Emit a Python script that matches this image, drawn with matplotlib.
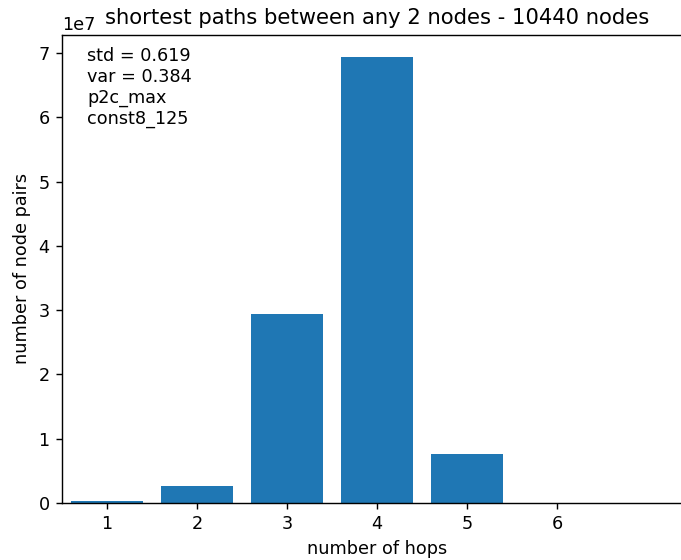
import matplotlib
matplotlib.use("Agg")
import matplotlib.pyplot as plt

hops = [1, 2, 3, 4, 5, 6]
pairs = [0.025e7, 0.26e7, 2.94e7, 6.935e7, 0.77e7, 0.0003e7]
tick_labels = ["1", "2", "3", "4", "5", "6"]
stats_text = "std = 0.619\nvar = 0.384\np2c_max\nconst8_125"
title = "shortest paths between any 2 nodes - 10440 nodes"

DPI = 127
fig = plt.figure(figsize=(681/DPI, 560/DPI), dpi=DPI)
ax = fig.add_axes([62/681, (560-503)/560, (692-62)/681, (503-35)/560])
ax.bar(hops, pairs, width=0.8, color="#1f77b4")
ax.set_xlim(0.5, 7.5)
ax.set_xticks(hops)
ax.set_xticklabels(tick_labels)
ax.set_xlabel("number of hops")
ax.set_ylabel("number of node pairs")
ax.set_title(title, fontsize=12)
ax.text(0.04, 0.975, stats_text, transform=ax.transAxes, va="top", ha="left", fontsize=10)
fig.savefig("out.png", dpi=DPI)
